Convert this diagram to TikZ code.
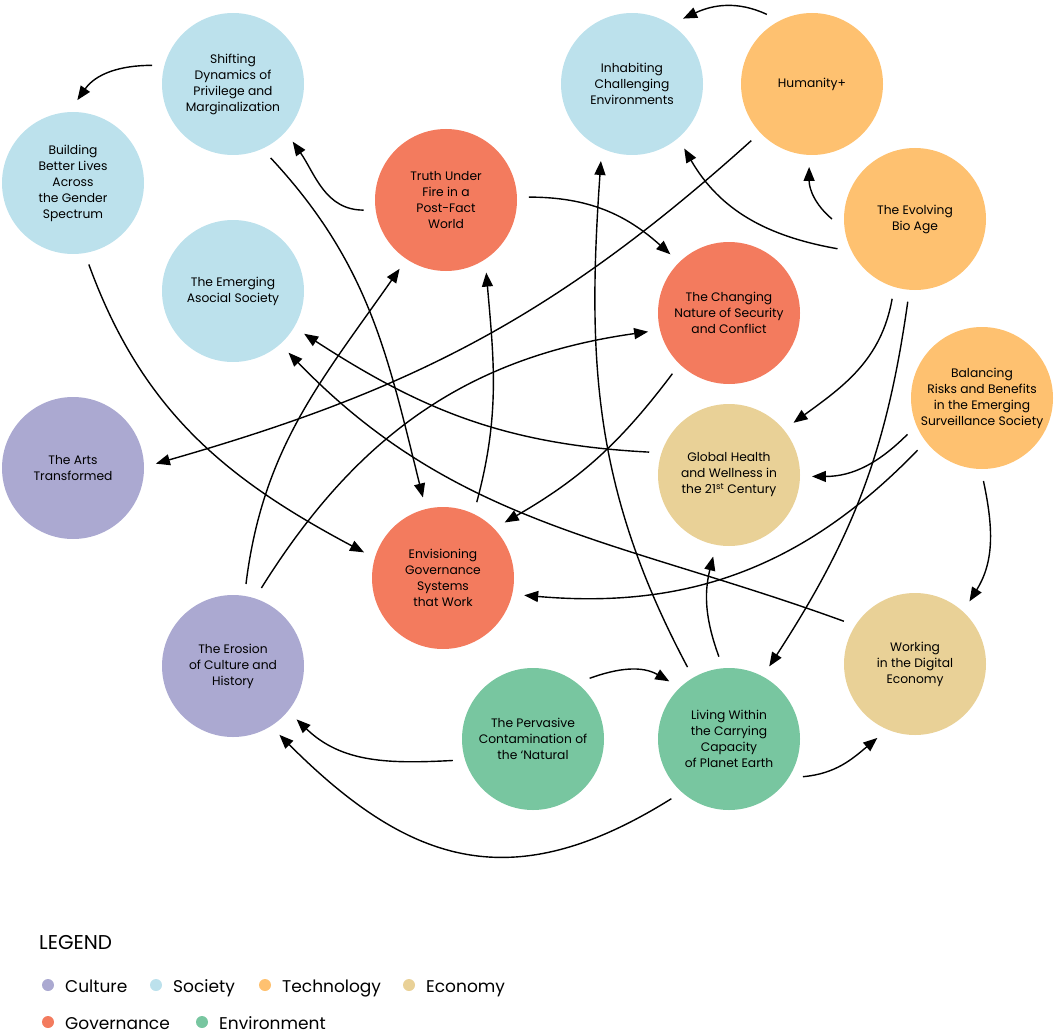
\documentclass[tikz,border=0pt]{standalone}
\usepackage{fontspec}
\setmainfont{Poppins}
\usepackage{tikz}
\usetikzlibrary{arrows.meta}

\definecolor{culture}{HTML}{ABA9D1}
\definecolor{society}{HTML}{BCE1EC}
\definecolor{technology}{HTML}{FEC170}
\definecolor{economy}{HTML}{E9D197}
\definecolor{governance}{HTML}{F37B5E}
\definecolor{environment}{HTML}{78C6A0}

\begin{document}
\begin{tikzpicture}[x=1pt, y=-1pt,
    topic/.style={circle, minimum size=142pt, inner sep=0pt, outer sep=12pt,
      align=center, font=\fontsize{12.3}{16}\selectfont},
    link/.style={line width=1.4pt, -{Triangle[length=14pt,width=11pt]}}]

  \useasboundingbox (0,0) rectangle (1055,1030);

  % topics
  \node[topic, fill=society] (shift) at (233,84) {Shifting\\Dynamics of\\Privilege and\\Marginalization};
  \node[topic, fill=society] (build) at (73,183) {Building\\Better Lives\\Across\\the Gender\\Spectrum};
  \node[topic, fill=society] (asocial) at (233,291) {The Emerging\\Asocial Society};
  \node[topic, fill=governance] (truth) at (446,200) {Truth Under\\Fire in a\\Post-Fact\\World};
  \node[topic, fill=society] (inhabit) at (632,84) {Inhabiting\\Challenging\\Environments};
  \node[topic, fill=technology] (humanity) at (812,84) {Humanity+};
  \node[topic, fill=technology] (bioage) at (915,219) {The Evolving\\Bio Age};
  \node[topic, fill=governance] (security) at (729,313) {The Changing\\Nature of Security\\and Conflict};
  \node[topic, fill=technology] (surveil) at (982,398) {Balancing\\Risks and Benefits\\in the Emerging\\Surveillance Society};
  \node[topic, fill=culture] (arts) at (73,468) {The Arts\\Transformed};
  \node[topic, fill=economy] (health) at (729,475) {Global Health\\and Wellness in\\the 21\textsuperscript{st} Century};
  \node[topic, fill=governance] (govern) at (443,578) {Envisioning\\Governance\\Systems\\that Work};
  \node[topic, fill=culture] (erosion) at (233,666) {The Erosion\\of Culture and\\History};
  \node[topic, fill=environment] (natural) at (533,739) {The Pervasive\\Contamination of\\the `Natural};
  \node[topic, fill=environment] (planet) at (729,739) {Living Within\\the Carrying\\Capacity\\of Planet Earth};
  \node[topic, fill=economy] (digital) at (915,664) {Working\\in the Digital\\Economy};

  % links: from/anchor/to/anchor/out/in
  \foreach \a/\sa/\b/\ea/\o/\i in {
      shift/167/build/87/180/55, truth/187/shift/-44/180/-55,
      shift/-63/govern/104/-47/104, build/-79/govern/162/-70/152,
      erosion/81/truth/-124/83/-125, erosion/70/security/-167/58/-172,
      govern/66/truth/-61/75/-85, humanity/-137/arts/3/-138/16,
      humanity/123/inhabit/52/155/25, bioage/180/humanity/-92/140/-90,
      bioage/-159/inhabit/-51/170/-60, truth/2/security/135/0/138,
      planet/120/inhabit/-112/118/-94, security/-133/govern/42/-127/30,
      health/164/asocial/-31/177/-33, digital/149/asocial/-48/160/-46,
      bioage/-106/health/39/-100/36, bioage/-95/planet/61/-98/57,
      surveil/-154/health/-1/-135/0, surveil/-141/govern/-12/-134/-5,
      surveil/-89/digital/49/-78/58, planet/97/health/-101/110/-104,
      natural/47/planet/136/20/150, natural/-165/erosion/-40/183/-44,
      planet/-27/digital/-117/5/-140}
    \draw[link] (\a.\sa) to[out=\o, in=\i] (\b.\ea);
  \draw[link] (planet.-134) to[out=-148, in=-45, looseness=1.2] (erosion.-56);

  % legend
  \node[anchor=base west, inner sep=0pt, font=\fontsize{20}{20}\selectfont] (legend) at (39,949) {LEGEND};
  \foreach \x/\y/\col/\lab in {48/985/culture/Culture, 156/985/society/Society,
      265/985/technology/Technology, 409/985/economy/Economy,
      48/1022/governance/Governance, 202/1022/environment/Environment} {
    \fill[\col] (\x,\y) circle (6pt);
    \node[anchor=base west, inner sep=0pt, font=\fontsize{17}{17}\selectfont] (key\lab) at (\x+17,\y+7) {\lab};
  }

\end{tikzpicture}
\end{document}
